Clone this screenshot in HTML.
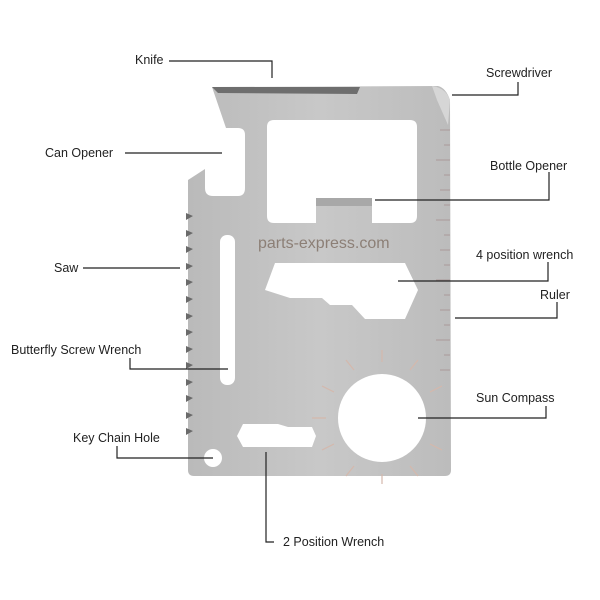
<!DOCTYPE html>
<html><head><style>
html,body{margin:0;padding:0;background:#fff;}
svg{display:block;}
text{font-family:"Liberation Sans",sans-serif;font-size:12.5px;fill:#222;}
</style></head><body>
<svg width="600" height="600" viewBox="0 0 600 600">
<defs>
<linearGradient id="g" x1="0" y1="0" x2="1" y2="0">
<stop offset="0" stop-color="#bababa"/><stop offset="0.5" stop-color="#c8c8c8"/><stop offset="1" stop-color="#bcbcbc"/>
</linearGradient>
</defs>
<path d="M212,87 L438,86 Q446,88 450,100 L451,470 Q451,476 445,476 L194,476 Q188,476 188,470 L188,180 L205,169 L205,188 Q205,196 213,196 L238,196 Q245,196 245,188 L245,135 Q245,128 238,128 L226,128 Z" fill="url(#g)"/>
<path d="M212,87 L360,87 L357,94 L218,93 Z" fill="#6e6e6e"/>
<path d="M432,86 Q446,88 450,100 L448,125 L437,100 Z" fill="#d6d6d6"/>
<g fill="#6a6a6a">
<path d="M186,213 l7,3 -7,4z M186,230 l7,3 -7,4z M186,246 l7,3 -7,4z M186,263 l7,3 -7,4z M186,279 l7,3 -7,4z M186,296 l7,3 -7,4z M186,313 l7,3 -7,4z M186,329 l7,3 -7,4z M186,346 l7,3 -7,4z M186,362 l7,3 -7,4z M186,379 l7,3 -7,4z M186,395 l7,3 -7,4z M186,412 l7,3 -7,4z M186,428 l7,3 -7,4z"/>
</g>
<path d="M274,120 L410,120 Q417,120 417,127 L417,216 Q417,223 410,223 L372,223 L372,200 L316,200 L316,223 L274,223 Q267,223 267,216 L267,127 Q267,120 274,120 Z" fill="#fff"/>
<rect x="316" y="198" width="56" height="8" fill="#a8a8a8"/>
<rect x="220" y="235" width="15" height="150" rx="7" fill="#fff"/>
<path d="M275,263 L405,263 L418,290 L405,319 L365,319 L352,305 L330,305 L322,298 L290,298 L265,290 Z" fill="#fff"/>
<circle cx="382" cy="418" r="44" fill="#fff"/>
<path d="M243,424 L278,424 L288,427 L312,427 L316,436 L312,447 L243,447 L237,436 Z" fill="#fff"/>
<circle cx="213" cy="458" r="9" fill="#fff"/>
<g stroke="#a99" stroke-width="1">
<path d="M440,130 h10 M444,145 h6 M436,160 h14 M444,175 h6 M440,190 h10 M444,205 h6 M436,220 h14 M444,235 h6 M440,250 h10 M444,265 h6 M436,280 h14 M444,295 h6 M440,310 h10 M444,325 h6 M436,340 h14 M444,355 h6 M440,370 h10"/>
</g>
<g stroke="#d4b8ac" stroke-width="1.2">
<path d="M382,362 v-12 M410,370 l8,-10 M430,392 l12,-6 M354,370 l-8,-10 M334,392 l-12,-6 M326,418 h-14 M334,444 l-12,6 M354,466 l-8,10 M382,474 v10 M410,466 l8,10 M430,444 l12,6"/>
</g>
<text x="258" y="248" style="font-size:16px;fill:#8c7f76;">parts-express.com</text>
<g stroke="#222" stroke-width="1.2" fill="none">
<path d="M169,61 H272 V78"/>
<path d="M518,82 V95 H452"/>
<path d="M125,153 H222"/>
<path d="M549,172 V200 H375"/>
<path d="M83,268 H180"/>
<path d="M548,262 V281 H398"/>
<path d="M557,302 V318 H455"/>
<path d="M130,358 V369 H228"/>
<path d="M546,406 V418 H418"/>
<path d="M117,446 V458 H213"/>
<path d="M266,452 V542 H274"/>
</g>
<text x="135" y="64">Knife</text>
<text x="486" y="77">Screwdriver</text>
<text x="45" y="157">Can Opener</text>
<text x="490" y="170">Bottle Opener</text>
<text x="54" y="272">Saw</text>
<text x="476" y="259">4 position wrench</text>
<text x="540" y="299">Ruler</text>
<text x="11" y="354">Butterfly Screw Wrench</text>
<text x="476" y="402">Sun Compass</text>
<text x="73" y="442">Key Chain Hole</text>
<text x="283" y="546">2 Position Wrench</text>
</svg>
</body></html>
